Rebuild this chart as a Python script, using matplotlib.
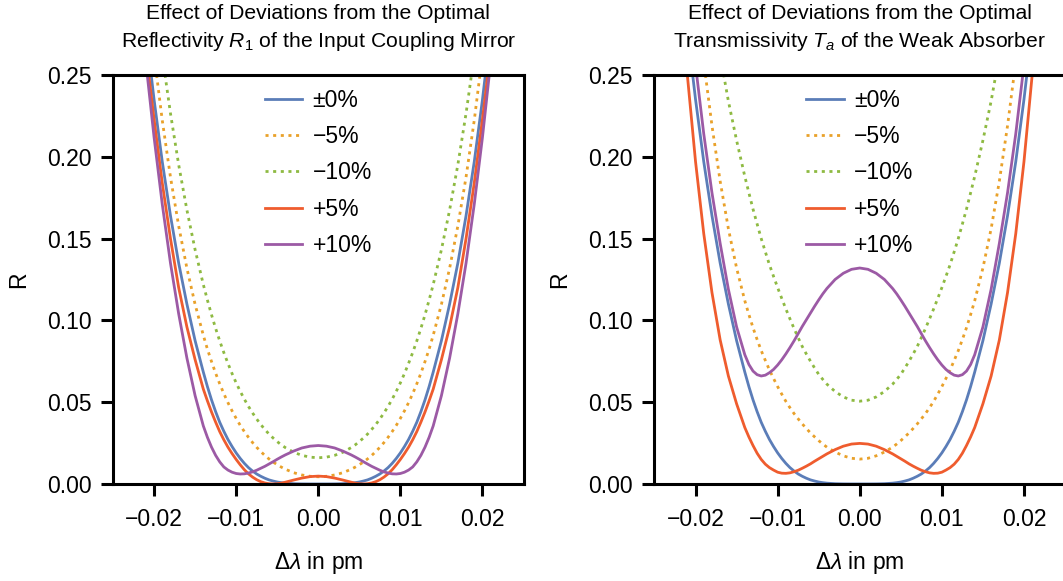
import matplotlib
matplotlib.use("Agg")
import matplotlib.pyplot as plt
import numpy as np

plt.rcParams["font.family"] = ["Liberation Sans", "DejaVu Sans"]
plt.rcParams["mathtext.fontset"] = "custom"
plt.rcParams["mathtext.rm"] = "Liberation Sans"
plt.rcParams["mathtext.it"] = "Liberation Sans:italic"
plt.rcParams["mathtext.bf"] = "Liberation Sans:bold"

# wavelength detuning (pm), right half only; all curves are symmetric about 0
dlam_half = [0.000, 0.001, 0.002, 0.003, 0.004, 0.0045, 0.005, 0.0055, 0.006,
             0.0065, 0.007, 0.0075, 0.008, 0.0085, 0.009, 0.0095, 0.010,
             0.0105, 0.011, 0.0115, 0.012, 0.0125, 0.013, 0.0135, 0.014,
             0.015, 0.016, 0.017, 0.018, 0.019, 0.020, 0.021, 0.022]

# optimal design (same in both panels)
r_opt = [0.0, 0.0, 0.00003, 0.00016, 0.0005, 0.0008, 0.0012, 0.0018, 0.0025,
         0.0035, 0.0047, 0.0061, 0.0079, 0.0100, 0.0126, 0.0156, 0.019,
         0.0229, 0.0272, 0.0322, 0.0377, 0.0442, 0.0514, 0.0595, 0.0684,
         0.0876, 0.110, 0.135, 0.164, 0.197, 0.235, 0.278, 0.326]

# left panel: deviation of R1
r1_minus5 = [0.0044, 0.0047, 0.0055, 0.0069, 0.0090, 0.0103, 0.0118, 0.0134,
             0.0153, 0.0174, 0.0198, 0.0224, 0.0253, 0.0285, 0.0320, 0.0358,
             0.0401, 0.0447, 0.0497, 0.0552, 0.0612, 0.0677, 0.0748, 0.0824,
             0.0909, 0.1098, 0.1319, 0.1577, 0.1876, 0.2223, 0.2624, 0.3086,
             0.3616]
r1_minus10 = [0.0160, 0.0164, 0.0175, 0.0194, 0.0222, 0.0239, 0.0259, 0.0281,
              0.0305, 0.0333, 0.0363, 0.0397, 0.0434, 0.0474, 0.0518, 0.0566,
              0.0618, 0.0675, 0.0737, 0.0803, 0.0874, 0.0951, 0.1034, 0.1124,
              0.1219, 0.1432, 0.1675, 0.1951, 0.2265, 0.2620, 0.3018, 0.3466,
              0.3965]
r1_plus5 = [0.0048, 0.0045, 0.0036, 0.0024, 0.0011, 0.0005, 0.00015, 0.0,
            0.00015, 0.0006, 0.0014, 0.0026, 0.0042, 0.0062, 0.0087, 0.0117,
            0.0150, 0.0186, 0.0225, 0.0270, 0.032, 0.0378, 0.044, 0.0508,
            0.058, 0.076, 0.096, 0.120, 0.150, 0.184, 0.223, 0.265, 0.312]
r1_plus10 = [0.0235, 0.0231, 0.0220, 0.0201, 0.0178, 0.0165, 0.0151, 0.0136,
             0.0122, 0.0108, 0.0096, 0.0084, 0.0074, 0.0067, 0.0062, 0.0061,
             0.0064, 0.0072, 0.0085, 0.0104, 0.0135, 0.0175, 0.0225, 0.0285,
             0.0355, 0.054, 0.077, 0.104, 0.135, 0.171, 0.212, 0.258, 0.310]

# right panel: deviation of Ta
ta_minus5 = [0.0152, 0.0157, 0.0172, 0.0195, 0.0225, 0.0244, 0.0265, 0.0288,
             0.0312, 0.0339, 0.0367, 0.0398, 0.0430, 0.0466, 0.0505, 0.0549,
             0.0595, 0.0645, 0.0697, 0.0755, 0.0815, 0.0883, 0.0955, 0.1035,
             0.112, 0.132, 0.156, 0.185, 0.219, 0.258, 0.303, 0.355, 0.415]
ta_minus10 = [0.0506, 0.0512, 0.0532, 0.0565, 0.061, 0.0639, 0.067, 0.0709,
              0.075, 0.0794, 0.084, 0.0894, 0.095, 0.1009, 0.107, 0.1134,
              0.120, 0.1269, 0.134, 0.1419, 0.150, 0.1589, 0.168, 0.1779,
              0.188, 0.210, 0.234, 0.262, 0.292, 0.325, 0.36, 0.40, 0.44]
ta_plus5 = [0.0248, 0.0244, 0.0231, 0.0210, 0.0184, 0.0169, 0.0154, 0.0139,
            0.0123, 0.0109, 0.0096, 0.0084, 0.0075, 0.0068, 0.0065, 0.0066,
            0.0072, 0.0085, 0.0100, 0.0121, 0.0150, 0.0188, 0.0235, 0.0287,
            0.0345, 0.049, 0.066, 0.088, 0.117, 0.153, 0.197, 0.250, 0.310]
ta_plus10 = [0.132, 0.1312, 0.1288, 0.125, 0.1195, 0.1162, 0.1125, 0.1086,
             0.1045, 0.1004, 0.0963, 0.0919, 0.0875, 0.0834, 0.0795, 0.0759,
             0.0727, 0.0700, 0.0680, 0.0665, 0.0660, 0.0668, 0.0690, 0.0730,
             0.0790, 0.0960, 0.1190, 0.147, 0.178, 0.214, 0.256, 0.305, 0.355]

labels = ["±0%", "−5%", "−10%", "+5%", "+10%"]
colors = ["#5b7db8", "#e9a12a", "#8eba42", "#ef5c2e", "#9c5aa5"]
styles = ["-", (0, (1.1, 1.65)), (0, (1.1, 1.65)), "-", "-"]

titles = [
    "Effect of Deviations from the Optimal\n"
    "Reflectivity $R_1$ of the Input Coupling Mirror",
    "Effect of Deviations from the Optimal\n"
    "Transmissivity $T_a$ of the Weak Absorber",
]


def mirror_x(half):
    h = np.asarray(half, dtype=float)
    return np.concatenate([-h[:0:-1], h])


def mirror_y(half):
    h = np.asarray(half, dtype=float)
    return np.concatenate([h[:0:-1], h])


x = mirror_x(dlam_half)
panels = [
    [r_opt, r1_minus5, r1_minus10, r1_plus5, r1_plus10],
    [r_opt, ta_minus5, ta_minus10, ta_plus5, ta_plus10],
]

fig = plt.figure(figsize=(10.63, 5.81), dpi=100)
ax_left = fig.add_axes([0.1063, 0.1670, 0.3862, 0.7040])
ax_right = fig.add_axes([0.6157, 0.1670, 0.3862, 0.7040])

for ax, curves, title in zip([ax_left, ax_right], panels, titles):
    for ys, lab, col, ls in zip(curves, labels, colors, styles):
        ax.plot(x, mirror_y(ys), color=col, linestyle=ls, lw=2.0, label=lab)
    ax.set_xlim(-0.025, 0.025)
    ax.set_ylim(0.0, 0.25)
    ax.set_xticks([-0.02, -0.01, 0.0, 0.01, 0.02])
    ax.set_yticks([0.0, 0.05, 0.10, 0.15, 0.20, 0.25])
    ax.tick_params(direction="out", length=8.6, width=2.2, labelsize=16.5)
    ax.tick_params(axis="x", pad=9)
    ax.tick_params(axis="y", pad=7)
    for sp in ax.spines.values():
        sp.set_linewidth(2.2)
    ax.set_title(title, fontsize=15.2, pad=20, linespacing=1.45)
    ax.set_xlabel(r"$\Delta\lambda$ in pm", fontsize=16.5, labelpad=13)
    ax.set_ylabel("R", fontsize=16.5, labelpad=12)
    ax.legend(loc="upper center", frameon=False, fontsize=16.5,
              handlelength=1.65, handletextpad=0.45, labelspacing=0.58,
              borderpad=0.2, borderaxespad=0.4)

fig.savefig("out.png", dpi=100)
